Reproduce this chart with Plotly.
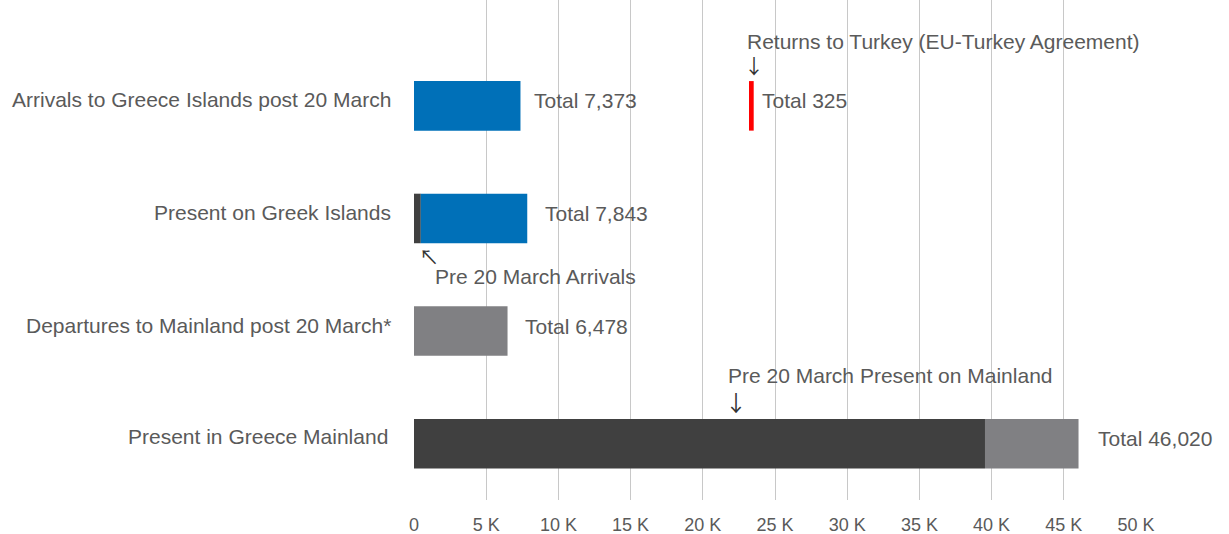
import plotly.graph_objects as go

categories = ["Present in Greece Mainland",
              "Departures to Mainland post 20 March*",
              "Present on Greek Islands",
              "Arrivals to Greece Islands post 20 March"]
pre20 = [39542, 0, 470, 0]          # dark segment
post20_islands = [0, 0, 7373, 7373]  # blue
departures = [6478, 6478, 0, 0]     # gray
totals = [46020, 6478, 7843, 7373]
returns_value = 325
returns_base = 23200

x_ticks = [0, 5000, 10000, 15000, 20000, 25000, 30000, 35000, 40000, 45000, 50000]
x_ticktext = ["0", "5 K", "10 K", "15 K", "20 K", "25 K", "30 K", "35 K", "40 K", "45 K", "50 K"]

DARK = "#404040"
BLUE = "#0070B8"
GRAY = "#808083"
RED = "#FF0000"
TXT = "#5a5a5a"
ARROW = "#333333"
FONT = "Liberation Sans, Arial, sans-serif"
AFONT = "Noto Sans CJK SC, DejaVu Sans"
FS = 21

ypos = list(range(len(categories)))
W = 0.44

fig = go.Figure()
fig.add_trace(go.Bar(y=ypos, x=pre20, orientation="h", marker_color=DARK, width=W,
                     marker_line_width=0, hoverinfo="skip"))
fig.add_trace(go.Bar(y=ypos, x=post20_islands, base=pre20, orientation="h", marker_color=BLUE,
                     width=W, marker_line_width=0, hoverinfo="skip"))
fig.add_trace(go.Bar(y=ypos, x=departures, base=pre20, orientation="h", marker_color=GRAY,
                     width=W, marker_line_width=0, hoverinfo="skip"))
fig.add_trace(go.Bar(y=[3], x=[returns_value], base=[returns_base], orientation="h",
                     marker_color=RED, width=W, marker_line_width=0, hoverinfo="skip"))

annotations = []
# category labels
cat_xshift = [-24, -21, -21, -21]
cat_yshift = [7, 6, 6, 6]
for i, c in enumerate(categories):
    annotations.append(dict(xref="paper", x=0, y=i, text=c, showarrow=False, xanchor="right",
                            xshift=cat_xshift[i], yshift=cat_yshift[i],
                            font=dict(size=FS, color=TXT, family=FONT)))
shifts = [17, 15, 16, 12]
for i, t in enumerate(totals):
    annotations.append(dict(x=t, y=i, text=f"Total {t:,}", showarrow=False, xanchor="left",
                            xshift=shifts[i], yshift=5, font=dict(size=FS, color=TXT, family=FONT)))
annotations.append(dict(x=returns_base + returns_value, y=3, text=f"Total {returns_value}",
                        showarrow=False, xanchor="left", xshift=6, yshift=5,
                        font=dict(size=FS, color=TXT, family=FONT)))
# explanatory notes
annotations.append(dict(x=returns_base, y=3, text="Returns to Turkey (EU-Turkey Agreement)",
                        showarrow=False, xanchor="left", xshift=-4, yshift=64,
                        font=dict(size=FS, color=TXT, family=FONT)))
annotations.append(dict(x=returns_base, y=3, text="↓", showarrow=False, xanchor="left",
                        xshift=-7, yshift=40, font=dict(size=20, color=ARROW, family=AFONT)))
annotations.append(dict(x=pre20[2], y=2, text="Pre 20 March Arrivals", showarrow=False,
                        xanchor="left", xshift=12, yshift=-58,
                        font=dict(size=FS, color=TXT, family=FONT)))
annotations.append(dict(x=pre20[2], y=2, text="↖", showarrow=False, xanchor="left",
                        xshift=-4, yshift=-38, font=dict(size=20, color=ARROW, family=AFONT)))
annotations.append(dict(x=22000, y=0, text="Pre 20 March Present on Mainland", showarrow=False,
                        xanchor="left", xshift=-6, yshift=68,
                        font=dict(size=FS, color=TXT, family=FONT)))
annotations.append(dict(x=22000, y=0, text="↓", showarrow=False, xanchor="left",
                        xshift=-9, yshift=43, font=dict(size=22, color=ARROW, family=AFONT)))

fig.update_layout(
    width=1229, height=534,
    margin=dict(l=414, r=93, t=0, b=34),
    paper_bgcolor="white", plot_bgcolor="white",
    barmode="overlay", showlegend=False,
    annotations=annotations,
    xaxis=dict(range=[0, 50000], tickvals=x_ticks, ticktext=x_ticktext, showgrid=True,
               gridcolor="#C8C8C8", gridwidth=1, zeroline=False, showline=False,
               ticks="outside", ticklen=8, tickcolor="rgba(0,0,0,0)",
               tickfont=dict(size=18, color=TXT, family=FONT)),
    yaxis=dict(range=[-0.5, 3.94], tickvals=ypos, showticklabels=False, showgrid=False,
               zeroline=False, showline=False),
)

fig.write_html("out.html")
